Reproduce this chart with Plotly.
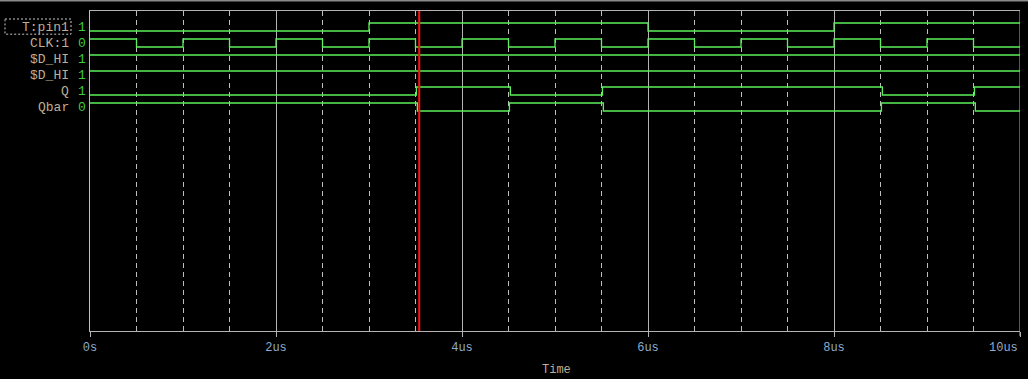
import plotly.graph_objects as go

# ---- data ----
signal_names = ["T:pin1", "CLK:1", "$D_HI", "$D_HI", "Q", "Qbar"]
cursor_values = ["1", "0", "1", "1", "1", "0"]

T_times = [0, 3, 6, 8, 10]
T_vals = [0, 1, 0, 1, 1]
CLK_times = [0, 0.5, 1, 1.5, 2, 2.5, 3, 3.5, 4, 4.5, 5, 5.5, 6, 6.5, 7, 7.5, 8, 8.5, 9, 9.5, 10]
CLK_vals = [1, 0, 1, 0, 1, 0, 1, 0, 1, 0, 1, 0, 1, 0, 1, 0, 1, 0, 1, 0, 0]
DHI1_times = [0, 10]
DHI1_vals = [1, 1]
DHI2_times = [0, 10]
DHI2_vals = [1, 1]
Q_times = [0, 3.51, 4.52, 5.51, 8.52, 9.51, 10]
Q_vals = [0, 1, 0, 1, 0, 1, 1]
Qbar_times = [0, 3.52, 4.51, 5.52, 8.51, 9.52, 10]
Qbar_vals = [1, 0, 1, 0, 1, 0, 0]

cursor_time = 3.54
tick_vals = [0, 2, 4, 6, 8, 10]
tick_text = ["0s", "2us", "4us", "6us", "8us", "10us"]
x_title = "Time"

series = [
    (T_times, T_vals), (CLK_times, CLK_vals), (DHI1_times, DHI1_vals),
    (DHI2_times, DHI2_vals), (Q_times, Q_vals), (Qbar_times, Qbar_vals),
]

# ---- style ----
GREEN = "#5cf05c"
VAL_GREEN = "#3ccc3c"
LABEL = "#bfae92"
TICK = "#8eaccc"
FONT = "Liberation Mono, Courier New, monospace"
AMP = 0.25  # half-swing of a row, in row units
L, W, T, H = 90, 930, 11, 320

fig = go.Figure()
for i, (t, v) in enumerate(series):
    center = i + 1
    fig.add_trace(go.Scatter(
        x=t, y=[center + AMP - 2 * AMP * val for val in v],
        mode="lines", line=dict(color=GREEN, width=1.3, shape="hv"),
        hoverinfo="skip", showlegend=False,
    ))

annotations = []
for i, (name, val) in enumerate(zip(signal_names, cursor_values)):
    annotations.append(dict(x=(71 - L) / W, xref="paper", xanchor="right", y=i + 1, yref="y",
                            text=name, showarrow=False,
                            font=dict(family=FONT, size=13, color=LABEL)))
    annotations.append(dict(x=(82 - L) / W, xref="paper", xanchor="center", y=i + 1, yref="y",
                            text=val, showarrow=False,
                            font=dict(family=FONT, size=13, color=VAL_GREEN)))
# last tick label is right-aligned at the plot edge (as in the reference)
annotations.append(dict(x=tick_vals[-1], xref="x", xanchor="right",
                        y=-(348 - T - H) / H, yref="paper", yanchor="middle",
                        text=tick_text[-1], showarrow=False,
                        font=dict(family=FONT, size=12, color=TICK)))
annotations.append(dict(x=(556 - L) / W, xref="paper", xanchor="center",
                        y=-(370 - T - H) / H, yref="paper", yanchor="middle",
                        text=x_title, showarrow=False,
                        font=dict(family=FONT, size=12, color=LABEL)))
shown_ticktext = tick_text[:-1] + [""]

shapes = [
    # cursor
    dict(type="line", xref="x", yref="paper", x0=cursor_time, x1=cursor_time, y0=0, y1=1,
         line=dict(color="#ff1010", width=2)),
    # right border
    dict(type="line", xref="x", yref="paper", x0=10, x1=10, y0=-0.016, y1=1,
         line=dict(color="#b0b0b0", width=1)),
    # dotted selection box around first label
    dict(type="rect", xref="paper", yref="y", x0=(5 - L) / W, x1=(71 - L) / W,
         y0=0.5, y1=1.45, line=dict(color="#c8c8c8", width=1, dash="2px,2px")),
    # top gray band of window
    dict(type="line", xref="paper", yref="paper", x0=-0.2, x1=1.2, y0=1.0328, y1=1.0328,
         line=dict(color="#8a8a8a", width=2)),
]

fig.update_layout(
    width=1028, height=379,
    margin=dict(l=L, r=1028 - L - W, t=T, b=379 - T - H),
    paper_bgcolor="#000000", plot_bgcolor="#000000",
    annotations=annotations, shapes=shapes,
    xaxis=dict(
        range=[0, 10], tickvals=tick_vals, ticktext=shown_ticktext,
        showgrid=True, gridcolor="#b4b4b4", gridwidth=1,
        showline=True, linecolor="#b4b4b4", linewidth=1, mirror=True,
        ticks="outside", ticklen=5, tickcolor="#b4b4b4",
        tickfont=dict(family=FONT, size=12, color=TICK),
        minor=dict(dtick=0.5, tick0=0, showgrid=True, gridcolor="#bdbdbd",
                   griddash="5px,4px", gridwidth=1),
        zeroline=False, fixedrange=True,
    ),
    yaxis=dict(
        range=[20, 0], showgrid=False, showticklabels=False, zeroline=False,
        showline=True, linecolor="#c8c87a", linewidth=1, mirror=False, ticks="",
        fixedrange=True,
    ),
)

fig.write_html("out.html")
